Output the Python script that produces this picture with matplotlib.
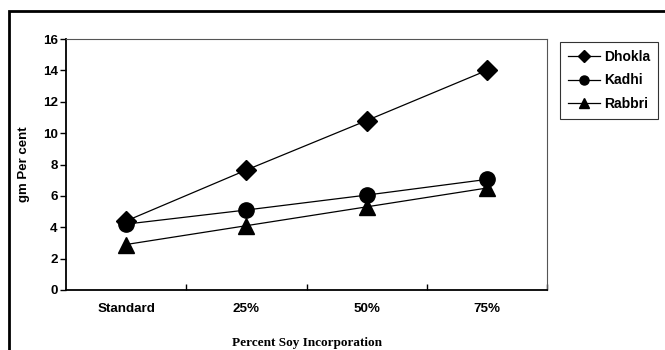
import matplotlib.pyplot as plt
from matplotlib.patches import Rectangle
from matplotlib.lines import Line2D

plt.rcParams['font.family'] = ['Liberation Sans', 'DejaVu Sans']

categories = ["Standard", "25%", "50%", "75%"]
dhokla = [4.4, 7.65, 10.8, 14.0]
kadhi = [4.2, 5.1, 6.05, 7.05]
rabbri = [2.9, 4.1, 5.3, 6.5]

W, H = 665, 350
fig = plt.figure(figsize=(6.65, 3.5), dpi=100)
ax = fig.add_axes([66 / W, 1 - 290 / H, 481 / W, 251 / H])

x = range(len(categories))
ax.plot(x, dhokla, "-D", color="black", lw=0.9, ms=10.5, label="Dhokla")
ax.plot(x, kadhi, "-o", color="black", lw=0.9, ms=11, label="Kadhi")
ax.plot(x, rabbri, "-^", color="black", lw=0.9, ms=11, label="Rabbri")

ax.set_xlim(-0.5, 3.5)
ax.set_ylim(0, 16)
ax.set_yticks(range(0, 17, 2))
ax.set_xticks(x)
ax.set_xticklabels(categories)
ax.set_xticks([0.5, 1.5, 2.5, 3.5], minor=True)
ax.tick_params(axis="x", which="major", length=0, pad=9)
ax.tick_params(axis="x", which="minor", length=4, direction="in", width=1)
ax.tick_params(axis="y", length=4, direction="out", width=1, pad=2)
for lab in ax.get_xticklabels() + ax.get_yticklabels():
    lab.set_fontweight("bold")
    lab.set_fontsize(9.6)

ax.spines["left"].set_linewidth(1.3)
ax.spines["bottom"].set_linewidth(1.3)
ax.spines["top"].set_color("#555555")
ax.spines["right"].set_color("#555555")
ax.spines["top"].set_linewidth(0.8)
ax.spines["right"].set_linewidth(0.8)

ax.set_ylabel("gm Per cent", fontsize=9.5, fontweight="bold", labelpad=9)
ax.set_xlabel("Percent Soy Incorporation", fontsize=9.5, fontweight="bold",
              family="Liberation Serif", labelpad=16)

handles = [
    Line2D([], [], color="black", lw=0.9, marker="D", ms=6),
    Line2D([], [], color="black", lw=0.9, marker="o", ms=6.5),
    Line2D([], [], color="black", lw=0.9, marker="^", ms=7),
]
leg = fig.legend(handles, ["Dhokla", "Kadhi", "Rabbri"],
                 loc="upper left", bbox_to_anchor=(560 / W, 1 - 42 / H),
                 frameon=True, fancybox=False, edgecolor="black",
                 prop={"weight": "bold", "size": 10}, handlelength=2.3,
                 handletextpad=0.3, borderpad=0.55, labelspacing=0.7,
                 borderaxespad=0)
leg.get_frame().set_linewidth(0.8)

fig.patches.append(Rectangle((9 / W, -0.1), 1.2, 1.1 - 11 / H,
                             transform=fig.transFigure, fill=False,
                             edgecolor="black", lw=2, clip_on=False))

fig.savefig("out.png", dpi=100)
